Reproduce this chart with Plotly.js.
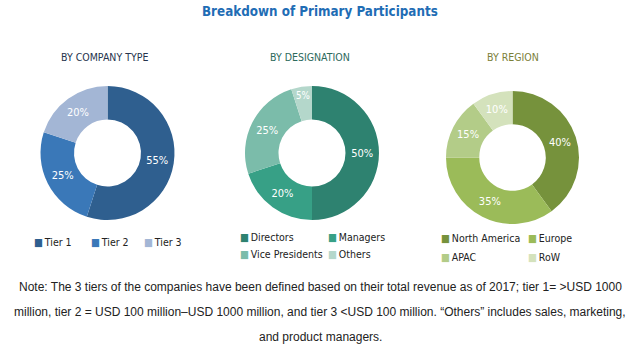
<!DOCTYPE html>
<html>
<head>
<meta charset="utf-8">
<script src="https://cdn.plot.ly/plotly-3.0.1.min.js"></script>
<style>html,body{margin:0;padding:0;background:#fff;}#chart{width:641px;height:352px;}</style>
</head>
<body>
<div id="chart"></div>
<script>
// ---- data ----
const companyLabels = ["Tier 1", "Tier 2", "Tier 3"];
const companyValues = [55, 25, 20];
const designationLabels = ["Directors", "Managers", "Vice Presidents", "Others"];
const designationValues = [50, 20, 25, 5];
const regionLabels = ["North America", "Europe", "APAC", "RoW"];
const regionValues = [40, 35, 15, 10];
const panelTitles = ["BY COMPANY TYPE", "BY DESIGNATION", "BY REGION"];
const chartTitle = "Breakdown of Primary Participants";
const noteLines = [
  "Note: The 3 tiers of the companies have been defined based on their total revenue as of 2017; tier 1= >USD 1000",
  "million, tier 2 = USD 100 million\u2013USD 1000 million, and tier 3 <USD 100 million. \u201cOthers\u201d includes sales, marketing,",
  "and product managers."
];

// ---- styles ----
const W = 641, H = 352;
const narrow = "Liberation Sans Narrow, DejaVu Sans Condensed, Arial Narrow, sans-serif";
const companyColors = ["#2f5f8f", "#3a78b8", "#a3b6d5"];
const designationColors = ["#2e8270", "#37a086", "#7bbcaa", "#b4d7cb"];
const regionColors = ["#76923c", "#9bbb59", "#b3cc88", "#d4e2bc"];
const titleColors = ["#26344d", "#2d6a5c", "#7b8038"];

function px2x(px) { return px / W; }
function px2y(py) { return 1 - py / H; }

const pies = [
  {labels: companyLabels, values: companyValues, colors: companyColors, box: [40.5, 86, 174.5, 220]},
  {labels: designationLabels, values: designationValues, colors: designationColors, box: [245, 86, 379, 220]},
  {labels: regionLabels, values: regionValues, colors: regionColors, box: [446, 91, 579, 224]}
];

const data = pies.map(p => ({
  type: "pie",
  labels: p.labels,
  values: p.values,
  sort: false,
  direction: "clockwise",
  rotation: 0,
  hole: 0.5,
  marker: {colors: p.colors, line: {width: 0}},
  texttemplate: "%{value}%",
  textposition: "inside",
  insidetextorientation: "horizontal",
  textfont: {family: narrow, size: 11, color: "#ffffff"},
  domain: {x: [px2x(p.box[0]), px2x(p.box[2])], y: [px2y(p.box[3]), px2y(p.box[1])]},
  showlegend: false,
  hoverinfo: "label+percent"
}));

const annotations = [];
annotations.push({
  text: "<b>" + chartTitle + "</b>", xref: "paper", yref: "paper", x: px2x(320), y: px2y(11),
  xanchor: "center", yanchor: "middle", showarrow: false,
  font: {family: narrow, size: 13.3, color: "#1f6db5"}
});
const titleX = [104, 310, 513];
panelTitles.forEach((t, i) => annotations.push({
  text: t, xref: "paper", yref: "paper", x: px2x(titleX[i]), y: px2y(57),
  xanchor: "center", yanchor: "middle", showarrow: false,
  font: {family: narrow, size: 10.5, color: titleColors[i]}
}));

// legend positions (marker left x, centre y) per entry
const legendPos = [
  [[32, 242], [89, 242], [142, 242]],
  [[238, 237], [326, 237], [238, 254], [326, 254]],
  [[439, 238], [526, 238], [439, 257], [526, 257]]
];
pies.forEach((p, i) => {
  p.labels.forEach((lab, j) => {
    const pos = legendPos[i][j];
    annotations.push({
      text: '<span style="color:' + p.colors[j] + '">\u25A0</span>\u2009' + lab,
      xref: "paper", yref: "paper", x: px2x(pos[0]), y: px2y(pos[1]),
      xanchor: "left", yanchor: "middle", showarrow: false,
      font: {family: narrow, size: 10.5, color: "#222222"}
    });
  });
});

const noteY = [287, 312, 337];
noteLines.forEach((t, i) => annotations.push({
  text: t, xref: "paper", yref: "paper", x: px2x(320), y: px2y(noteY[i]),
  xanchor: "center", yanchor: "middle", showarrow: false,
  font: {family: "Liberation Sans, Arial, sans-serif", size: 12, color: "#222222"}
}));

const layout = {
  width: W, height: H,
  margin: {l: 0, r: 0, t: 0, b: 0},
  paper_bgcolor: "#ffffff",
  plot_bgcolor: "#ffffff",
  showlegend: false,
  annotations: annotations
};

Plotly.newPlot("chart", data, layout, {displayModeBar: false, staticPlot: true});
</script>
</body>
</html>
